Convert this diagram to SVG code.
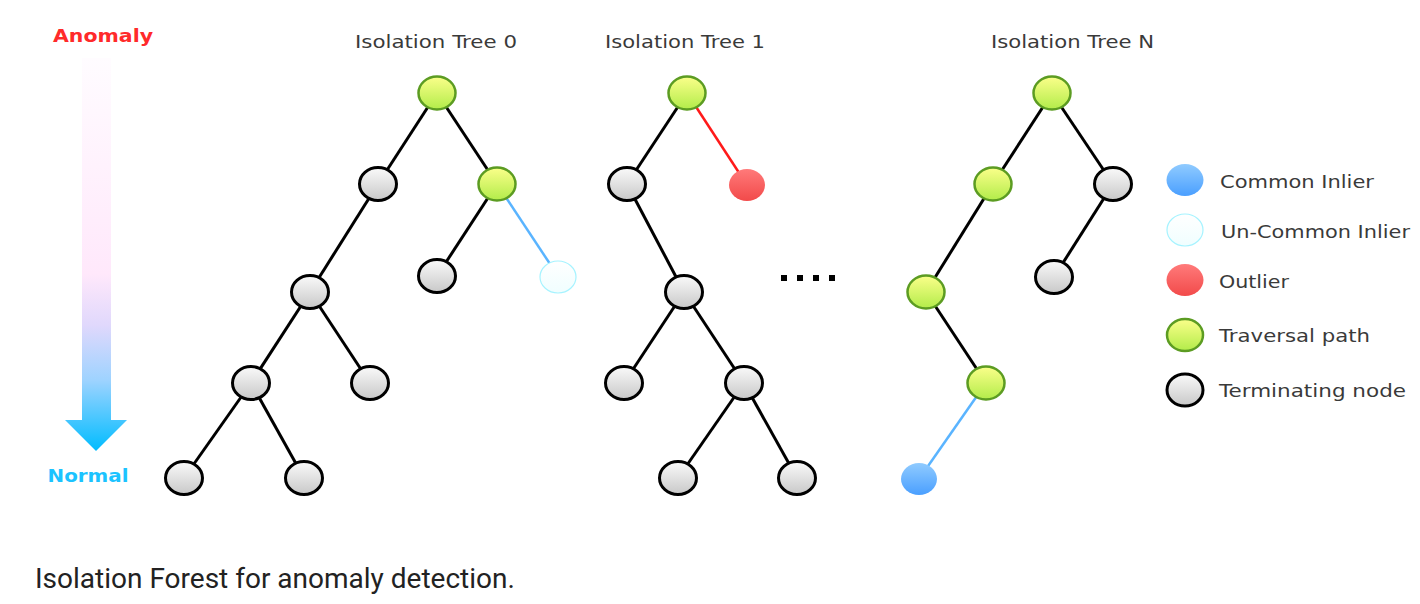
<svg xmlns="http://www.w3.org/2000/svg" width="1420" height="604" viewBox="0 0 1420 604">
<defs>
<linearGradient id="gGray" x1="0" y1="0" x2="0" y2="1"><stop offset="0" stop-color="#fafafa"/><stop offset="1" stop-color="#c8c8c8"/></linearGradient>
<linearGradient id="gGreen" x1="0" y1="0" x2="0" y2="1"><stop offset="0" stop-color="#fbff8a"/><stop offset="1" stop-color="#b2ec4a"/></linearGradient>
<linearGradient id="gRed" x1="0" y1="0" x2="0" y2="1"><stop offset="0" stop-color="#ff7a7a"/><stop offset="1" stop-color="#f24a4a"/></linearGradient>
<linearGradient id="gBlue" x1="0" y1="0" x2="0" y2="1"><stop offset="0" stop-color="#90cbff"/><stop offset="1" stop-color="#4a9fff"/></linearGradient>
<linearGradient id="gUn" x1="0" y1="0" x2="0" y2="1"><stop offset="0" stop-color="#ffffff"/><stop offset="1" stop-color="#f0feff"/></linearGradient>
<linearGradient id="gShaft" gradientUnits="userSpaceOnUse" x1="0" y1="58" x2="0" y2="451">
<stop offset="0" stop-color="#fffcff"/>
<stop offset="0.55" stop-color="#ffe8fb"/>
<stop offset="0.68" stop-color="#e0d8fc"/>
<stop offset="0.82" stop-color="#9ed3ff"/>
<stop offset="1" stop-color="#00bcff"/>
</linearGradient>
<style>
.gray{fill:url(#gGray);stroke:#000;stroke-width:3}
.green{fill:url(#gGreen);stroke:#5c9c22;stroke-width:2.5}
.red{fill:url(#gRed);stroke:none}
.blue{fill:url(#gBlue);stroke:none}
.un{fill:url(#gUn);stroke:#a6f3ff;stroke-width:1.2}
.e{stroke:#000;stroke-width:3;fill:none}
.eb{stroke:#5ab4ff;stroke-width:2.5;fill:none}
.er{stroke:#ff1a1a;stroke-width:2.5;fill:none}
.title{font-family:"DejaVu Sans",sans-serif;font-size:18px;fill:#3a3a3a}
.leg{font-family:"DejaVu Sans",sans-serif;font-size:18px;fill:#3a3a3a}
</style>
</defs>
<rect width="1420" height="604" fill="#fff"/>

<g id="scale">
<text x="103" y="42" text-anchor="middle" font-family="DejaVu Sans, sans-serif" font-weight="bold" font-size="18" fill="#ff2a2a" textLength="100" lengthAdjust="spacingAndGlyphs">Anomaly</text>
<path d="M82 58 H111 V420 H127 L96 451 L65 420 H82 Z" fill="url(#gShaft)"/>
<text x="88" y="482" text-anchor="middle" font-family="DejaVu Sans, sans-serif" font-weight="bold" font-size="18" fill="#1cc3ff" textLength="81" lengthAdjust="spacingAndGlyphs">Normal</text>
</g>

<g id="titles">
<text class="title" x="355" y="48" textLength="162" lengthAdjust="spacingAndGlyphs">Isolation Tree 0</text>
<text class="title" x="605" y="48" textLength="160" lengthAdjust="spacingAndGlyphs">Isolation Tree 1</text>
<text class="title" x="991" y="48" textLength="163" lengthAdjust="spacingAndGlyphs">Isolation Tree N</text>
</g>

<g id="connectors">
<line class="e" x1="437" y1="93" x2="378" y2="184"/>
<line class="e" x1="437" y1="93" x2="497" y2="184"/>
<line class="e" x1="378" y1="184" x2="310" y2="292"/>
<line class="e" x1="497" y1="184" x2="437" y2="276"/>
<line class="eb" x1="497" y1="184" x2="558" y2="276"/>
<line class="e" x1="310" y1="292" x2="251" y2="383"/>
<line class="e" x1="310" y1="292" x2="370" y2="383"/>
<line class="e" x1="251" y1="383" x2="184" y2="478"/>
<line class="e" x1="251" y1="383" x2="304" y2="478"/>
<line class="e" x1="687" y1="93" x2="627" y2="184"/>
<line class="er" x1="687" y1="93" x2="747" y2="185"/>
<line class="e" x1="627" y1="184" x2="684" y2="292"/>
<line class="e" x1="684" y1="292" x2="624" y2="383"/>
<line class="e" x1="684" y1="292" x2="744" y2="383"/>
<line class="e" x1="744" y1="383" x2="678" y2="478"/>
<line class="e" x1="744" y1="383" x2="797" y2="478"/>
<line class="e" x1="1052" y1="93" x2="993" y2="184"/>
<line class="e" x1="1052" y1="93" x2="1113" y2="184"/>
<line class="e" x1="993" y1="184" x2="926" y2="292"/>
<line class="e" x1="1113" y1="184" x2="1054" y2="277"/>
<line class="e" x1="926" y1="292" x2="986" y2="383"/>
<line class="eb" x1="986" y1="383" x2="919" y2="479"/>
</g>

<g id="tree0">
<ellipse id="t0n0" class="green" cx="437" cy="93" rx="18.5" ry="16.5"/>
<ellipse id="t0n1" class="gray" cx="378" cy="184" rx="18.5" ry="16.5"/>
<ellipse id="t0n2" class="green" cx="497" cy="184" rx="18.5" ry="16.5"/>
<ellipse id="t0n3" class="gray" cx="437" cy="276" rx="18.5" ry="16.5"/>
<ellipse id="t0n4" class="un" cx="558" cy="277" rx="18" ry="16"/>
<ellipse id="t0n5" class="gray" cx="310" cy="292" rx="18.5" ry="16.5"/>
<ellipse id="t0n6" class="gray" cx="251" cy="383" rx="18.5" ry="16.5"/>
<ellipse id="t0n7" class="gray" cx="370" cy="383" rx="18.5" ry="16.5"/>
<ellipse id="t0n8" class="gray" cx="184" cy="478" rx="18.5" ry="16.5"/>
<ellipse id="t0n9" class="gray" cx="304" cy="478" rx="18.5" ry="16.5"/>
</g>

<g id="tree1">
<ellipse id="t1n0" class="green" cx="687" cy="93" rx="18.5" ry="16.5"/>
<ellipse id="t1n1" class="gray" cx="627" cy="184" rx="18.5" ry="16.5"/>
<ellipse id="t1n2" class="red" cx="747" cy="185" rx="18" ry="16"/>
<ellipse id="t1n3" class="gray" cx="684" cy="292" rx="18.5" ry="16.5"/>
<ellipse id="t1n4" class="gray" cx="624" cy="383" rx="18.5" ry="16.5"/>
<ellipse id="t1n5" class="gray" cx="744" cy="383" rx="18.5" ry="16.5"/>
<ellipse id="t1n6" class="gray" cx="678" cy="478" rx="18.5" ry="16.5"/>
<ellipse id="t1n7" class="gray" cx="797" cy="478" rx="18.5" ry="16.5"/>
</g>

<g id="ellipsis" fill="#000">
<rect x="781" y="275" width="6" height="6"/>
<rect x="797" y="275" width="6" height="6"/>
<rect x="813" y="275" width="6" height="6"/>
<rect x="829" y="275" width="6" height="6"/>
</g>

<g id="treeN">
<ellipse id="tNn0" class="green" cx="1052" cy="93" rx="18.5" ry="16.5"/>
<ellipse id="tNn1" class="green" cx="993" cy="184" rx="18.5" ry="16.5"/>
<ellipse id="tNn2" class="gray" cx="1113" cy="184" rx="18.5" ry="16.5"/>
<ellipse id="tNn3" class="green" cx="926" cy="292" rx="18.5" ry="16.5"/>
<ellipse id="tNn4" class="gray" cx="1054" cy="277" rx="18.5" ry="16.5"/>
<ellipse id="tNn5" class="green" cx="986" cy="383" rx="18.5" ry="16.5"/>
<ellipse id="tNn6" class="blue" cx="919" cy="479" rx="18" ry="16"/>
</g>

<g id="legend">
<g id="leg-common"><ellipse class="blue" cx="1185" cy="180" rx="18.5" ry="16"/><text class="leg" x="1220" y="188" textLength="154" lengthAdjust="spacingAndGlyphs">Common Inlier</text></g>
<g id="leg-uncommon"><ellipse class="un" cx="1185" cy="230" rx="18" ry="16"/><text class="leg" x="1221" y="238" textLength="189" lengthAdjust="spacingAndGlyphs">Un-Common Inlier</text></g>
<g id="leg-outlier"><ellipse class="red" cx="1185" cy="280" rx="18.5" ry="16"/><text class="leg" x="1219" y="288" textLength="70" lengthAdjust="spacingAndGlyphs">Outlier</text></g>
<g id="leg-traversal"><ellipse class="green" cx="1185" cy="335" rx="18" ry="16"/><text class="leg" x="1219" y="342" textLength="151" lengthAdjust="spacingAndGlyphs">Traversal path</text></g>
<g id="leg-terminating"><ellipse class="gray" cx="1185" cy="390" rx="18" ry="16"/><text class="leg" x="1219" y="397" textLength="187" lengthAdjust="spacingAndGlyphs">Terminating node</text></g>
</g>

<text id="caption" x="35" y="588" font-family="Roboto, sans-serif" font-size="28" fill="#222">Isolation Forest for anomaly detection.</text>
</svg>
